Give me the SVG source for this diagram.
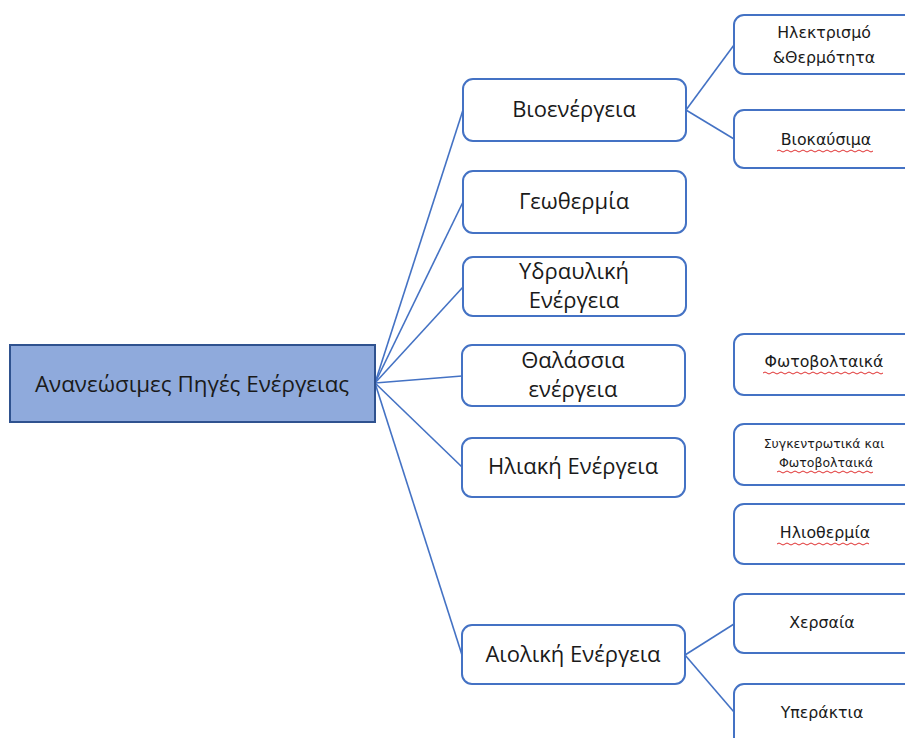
<svg xmlns="http://www.w3.org/2000/svg" width="905" height="738" viewBox="0 0 905 738">
<style>
.box{fill:#fff;stroke:#4472C4;stroke-width:2}
.root{fill:#8FAADC;stroke:#2F528F;stroke-width:2}
.t1{font-family:"Open Sans","Noto Sans","DejaVu Sans",sans-serif;font-size:22px;fill:#1a1a1a;text-anchor:middle}
.t0{font-family:"Open Sans","Noto Sans","DejaVu Sans",sans-serif;font-size:22.4px;fill:#1a1a1a;text-anchor:middle}
.t2{font-family:"DejaVu Sans","Noto Sans",sans-serif;font-size:15.8px;fill:#1a1a1a;text-anchor:middle}
.t3{font-family:"DejaVu Sans","Noto Sans",sans-serif;font-size:12.5px;fill:#1a1a1a;text-anchor:middle}
.conn line{stroke:#4472C4;stroke-width:1.6}
.sq{fill:none;stroke:#E03030;stroke-width:1}
</style>
<rect width="905" height="738" fill="#fff"/>
<g class="conn" id="connectors">
<line x1="375" y1="383" x2="463" y2="110"/>
<line x1="375" y1="383" x2="463" y2="202"/>
<line x1="375" y1="383" x2="463" y2="287"/>
<line x1="375" y1="383" x2="462" y2="376"/>
<line x1="375" y1="383" x2="462" y2="467"/>
<line x1="375" y1="383" x2="462" y2="655"/>
<line x1="686" y1="110" x2="734" y2="45"/>
<line x1="686" y1="110" x2="734" y2="139"/>
<line x1="685" y1="655" x2="734" y2="624"/>
<line x1="685" y1="655" x2="734" y2="712"/>
</g>
<g id="root"><rect class="root" x="10" y="345" width="365" height="77"/><text class="t0" x="192" y="392">Ανανεώσιμες Πηγές Ενέργειας</text></g>
<g id="bio"><rect class="box" x="463" y="79" width="223" height="62" rx="10"/><text class="t1" x="574" y="117">Βιοενέργεια</text></g>
<g id="geo"><rect class="box" x="463" y="171" width="223" height="62" rx="10"/><text class="t1" x="574" y="209">Γεωθερμία</text></g>
<g id="hydro"><rect class="box" x="463" y="257" width="223" height="59" rx="10"/><text class="t1" x="574" y="279">Υδραυλική</text><text class="t1" x="574" y="308">Ενέργεια</text></g>
<g id="sea"><rect class="box" x="462" y="345" width="223" height="61" rx="10"/><text class="t1" x="573" y="368">Θαλάσσια</text><text class="t1" x="573" y="397">ενέργεια</text></g>
<g id="solar"><rect class="box" x="462" y="438" width="223" height="59" rx="10"/><text class="t1" x="573" y="474">Ηλιακή Ενέργεια</text></g>
<g id="wind"><rect class="box" x="462" y="625" width="223" height="59" rx="10"/><text class="t1" x="573" y="662">Αιολική Ενέργεια</text></g>
<g id="elec"><rect class="box" x="734" y="15" width="200" height="59" rx="10"/><text class="t2" x="824" y="38">Ηλεκτρισμό</text><text class="t2" x="824" y="63">&amp;Θερμότητα</text></g>
<g id="biofuel"><rect class="box" x="734" y="110" width="200" height="58" rx="10"/><text class="t2" x="826" y="145">Βιοκαύσιμα</text><path class="sq" d="M777 151 q2 -2 4 0 t4 0 t4 0 t4 0 t4 0 t4 0 t4 0 t4 0 t4 0 t4 0 t4 0 t4 0 t4 0 t4 0 t4 0 t4 0 t4 0 t4 0 t4 0 t4 0 t4 0 t4 0 t4 0 t4 0"/></g>
<g id="pv"><rect class="box" x="734" y="334" width="200" height="61" rx="10"/><text class="t2" x="824" y="367">Φωτοβολταικά</text><path class="sq" d="M763 373 q2 -2 4 0 t4 0 t4 0 t4 0 t4 0 t4 0 t4 0 t4 0 t4 0 t4 0 t4 0 t4 0 t4 0 t4 0 t4 0 t4 0 t4 0 t4 0 t4 0 t4 0 t4 0 t4 0 t4 0 t4 0 t4 0 t4 0 t4 0 t4 0 t4 0 t4 0"/></g>
<g id="csp"><rect class="box" x="734" y="424" width="200" height="61" rx="10"/><text class="t3" x="824" y="448">Συγκεντρωτικά και</text><text class="t3" x="826" y="467">Φωτοβολταικά</text><path class="sq" d="M777 472 q2 -2 4 0 t4 0 t4 0 t4 0 t4 0 t4 0 t4 0 t4 0 t4 0 t4 0 t4 0 t4 0 t4 0 t4 0 t4 0 t4 0 t4 0 t4 0 t4 0 t4 0 t4 0 t4 0 t4 0 t4 0"/></g>
<g id="solarthermal"><rect class="box" x="734" y="504" width="200" height="60" rx="10"/><text class="t2" x="825" y="538">Ηλιοθερμία</text><path class="sq" d="M777 544 q2 -2 4 0 t4 0 t4 0 t4 0 t4 0 t4 0 t4 0 t4 0 t4 0 t4 0 t4 0 t4 0 t4 0 t4 0 t4 0 t4 0 t4 0 t4 0 t4 0 t4 0 t4 0 t4 0 t4 0"/></g>
<g id="onshore"><rect class="box" x="734" y="594" width="200" height="59" rx="10"/><text class="t2" x="822" y="628">Χερσαία</text></g>
<g id="offshore"><rect class="box" x="734" y="684" width="200" height="80" rx="10"/><text class="t2" x="822" y="718">Υπεράκτια</text></g>
</svg>
